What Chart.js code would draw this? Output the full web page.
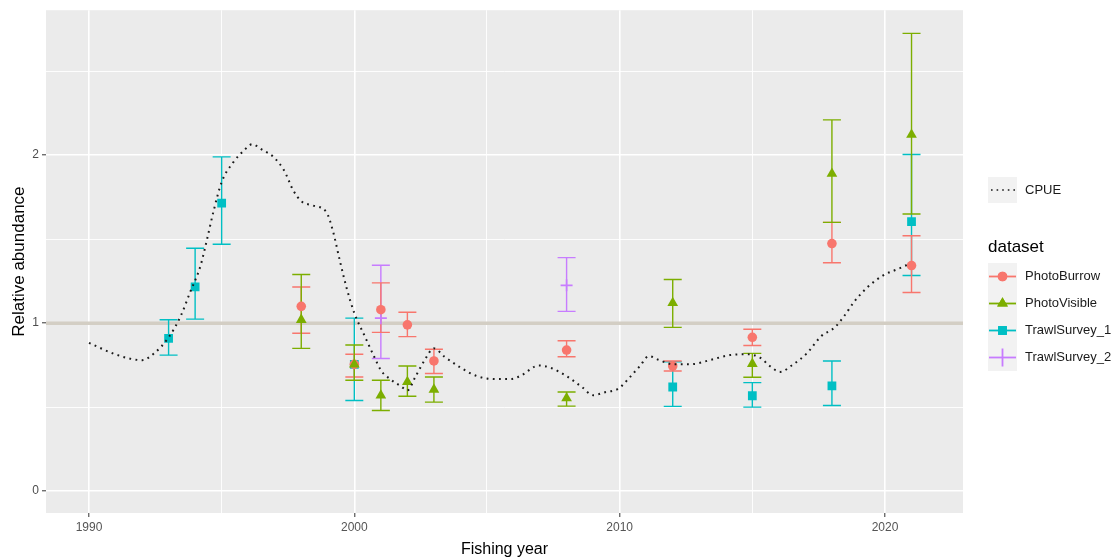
<!DOCTYPE html>
<html><head><meta charset="utf-8">
<script src="https://cdn.jsdelivr.net/npm/chart.js@4.4.1/dist/chart.umd.min.js"></script>
<style>html,body{margin:0;padding:0;background:#fff}#wrap{position:relative;width:1120px;height:559px}</style>
</head><body><div id="wrap"><canvas id="c" width="1120" height="559"></canvas></div>
<script>
// ---------- data ----------
const xTicks = [1990, 1995, 2000, 2005, 2010, 2015, 2020];
const yTicks = [0, 0.5, 1, 1.5, 2, 2.5];
const refLevel = 1;

const burrowYears  = [1998, 2000, 2001, 2002, 2003, 2008, 2012, 2015, 2018, 2021];
const burrowValues = [1.10, 0.755, 1.08, 0.99, 0.775, 0.84, 0.745, 0.916, 1.474, 1.343];
const burrowLow    = [0.94, 0.68, 0.945, 0.92, 0.70, 0.80, 0.715, 0.867, 1.36, 1.183];
const burrowHigh   = [1.215, 0.815, 1.24, 1.065, 0.845, 0.895, 0.775, 0.964, 1.60, 1.52];

const visibleYears  = [1998, 2000, 2001, 2002, 2003, 2008, 2012, 2015, 2018, 2021];
const visibleValues = [1.02, 0.755, 0.57, 0.65, 0.605, 0.553, 1.12, 0.758, 1.89, 2.122];
const visibleLow    = [0.85, 0.66, 0.48, 0.565, 0.53, 0.506, 0.975, 0.678, 1.60, 1.65];
const visibleHigh   = [1.29, 0.87, 0.66, 0.745, 0.68, 0.59, 1.26, 0.82, 2.21, 2.725];

const trawl1Years  = [1993, 1994, 1995, 2000, 2012, 2015, 2018, 2021];
const trawl1Values = [0.91, 1.216, 1.714, 0.755, 0.62, 0.568, 0.627, 1.604];
const trawl1Low    = [0.81, 1.024, 1.47, 0.54, 0.505, 0.50, 0.51, 1.284];
const trawl1High   = [1.02, 1.446, 1.99, 1.03, 0.77, 0.646, 0.775, 2.004];

const trawl2Years  = [2001, 2008];
const trawl2Values = [1.03, 1.225];
const trawl2Low    = [0.79, 1.07];
const trawl2High   = [1.345, 1.39];

const cpueYears = [1990.0, 1990.9, 1991.6, 1992.0, 1992.45, 1993.0, 1993.45, 1993.8, 1994.2, 1994.45, 1994.7, 1995.0, 1995.45, 1995.85, 1996.15, 1996.55, 1996.95, 1997.35, 1997.7, 1998.0, 1998.45, 1998.95, 1999.2, 1999.45, 1999.7, 2000.0, 2000.4, 2000.75, 2001.0, 2001.35, 2001.75, 2002.0, 2002.3, 2002.65, 2003.0, 2003.4, 2004.0, 2004.6, 2005.35, 2005.9, 2006.3, 2006.95, 2007.4, 2008.0, 2008.6, 2009.0, 2009.45, 2009.95, 2010.45, 2010.77, 2011.1, 2011.5, 2012.0, 2012.7, 2013.4, 2014.15, 2014.8, 2015.3, 2015.65, 2016.05, 2016.5, 2017.05, 2017.6, 2018.1, 2018.45, 2018.85, 2019.35, 2019.95, 2020.45, 2020.95];
const cpueValues = [0.883, 0.82, 0.787, 0.78, 0.82, 0.915, 1.04, 1.18, 1.34, 1.50, 1.67, 1.84, 1.96, 2.03, 2.065, 2.03, 1.99, 1.91, 1.79, 1.726, 1.70, 1.66, 1.545, 1.375, 1.215, 1.06, 0.92, 0.80, 0.72, 0.667, 0.625, 0.60, 0.68, 0.78, 0.85, 0.80, 0.736, 0.686, 0.667, 0.667, 0.69, 0.748, 0.734, 0.685, 0.617, 0.571, 0.589, 0.61, 0.69, 0.746, 0.804, 0.78, 0.756, 0.756, 0.78, 0.81, 0.815, 0.794, 0.746, 0.71, 0.75, 0.82, 0.923, 0.974, 1.04, 1.13, 1.215, 1.286, 1.32, 1.355];

const seriesNames = ['PhotoBurrow', 'PhotoVisible', 'TrawlSurvey_1', 'TrawlSurvey_2'];
const seriesColors = ['#F8766D', '#7CAE00', '#00BFC4', '#C77CFF'];

// ---------- build ----------
const series = [
  {years: burrowYears, values: burrowValues, low: burrowLow, high: burrowHigh, style: 'circle', r: 4.8},
  {years: visibleYears, values: visibleValues, low: visibleLow, high: visibleHigh, style: 'triangle', r: 6.2},
  {years: trawl1Years, values: trawl1Values, low: trawl1Low, high: trawl1High, style: 'rect', r: 6.2},
  {years: trawl2Years, values: trawl2Values, low: trawl2Low, high: trawl2High, style: 'cross', r: 6}
];
series.forEach((s, i) => { s.name = seriesNames[i]; s.color = seriesColors[i]; });

const FONT = '"Liberation Sans", Arial, sans-serif';

const datasets = series.map((s, i) => ({
  label: s.name,
  data: s.years.map((yr, j) => ({x: yr, y: s.values[j]})),
  pointStyle: s.style,
  pointRadius: s.r,
  backgroundColor: s.color,
  borderColor: s.color,
  pointBorderWidth: s.style === 'cross' ? 1.6 : 0,
  showLine: false,
  order: [1, 0, 2, 3][i]
}));
datasets.push({
  label: 'CPUE',
  data: cpueYears.map((yr, j) => ({x: yr, y: cpueValues[j]})),
  showLine: true,
  pointRadius: 0,
  borderColor: '#1a1a1a',
  borderWidth: 2,
  borderDash: [1.8, 4.4],
  cubicInterpolationMode: 'monotone',
  order: -1
});

const panelPlugin = {
  id: 'panel',
  beforeDraw(chart) {
    const {ctx, chartArea: a} = chart;
    ctx.save();
    ctx.fillStyle = '#EBEBEB';
    ctx.fillRect(a.left, a.top, a.right - a.left, a.bottom - a.top);
    ctx.restore();
  },
  beforeDatasetsDraw(chart) {
    const {ctx, chartArea: a, scales: {x, y}} = chart;
    ctx.save();
    const yr = y.getPixelForValue(refLevel);
    ctx.strokeStyle = '#D3CEC4';
    ctx.lineWidth = 3.5;
    ctx.beginPath(); ctx.moveTo(a.left, yr); ctx.lineTo(a.right, yr); ctx.stroke();
    ctx.lineWidth = 1.4;
    const order = [2, 3, 0, 1];
    order.forEach(k => {
      const s = series[k];
      ctx.strokeStyle = s.color;
      s.years.forEach((yr2, j) => {
        const px = x.getPixelForValue(yr2);
        const lo = y.getPixelForValue(s.low[j]);
        const hi = y.getPixelForValue(s.high[j]);
        ctx.beginPath();
        ctx.moveTo(px, lo); ctx.lineTo(px, hi);
        ctx.moveTo(px - 9, lo); ctx.lineTo(px + 9, lo);
        ctx.moveTo(px - 9, hi); ctx.lineTo(px + 9, hi);
        ctx.stroke();
      });
    });
    ctx.restore();
  },
  afterDraw(chart) {
    const ctx = chart.ctx;
    ctx.save();
    // CPUE key
    ctx.fillStyle = '#F2F2F2';
    ctx.fillRect(988, 177, 29, 26);
    ctx.strokeStyle = '#1a1a1a';
    ctx.lineWidth = 1.6;
    ctx.setLineDash([1.6, 4]);
    ctx.beginPath(); ctx.moveTo(991, 190); ctx.lineTo(1015, 190); ctx.stroke();
    ctx.setLineDash([]);
    ctx.fillStyle = '#1a1a1a';
    ctx.font = '13px ' + FONT;
    ctx.textBaseline = 'middle';
    ctx.textAlign = 'left';
    ctx.fillText('CPUE', 1025, 190);
    // dataset legend
    ctx.font = '17px ' + FONT;
    ctx.fillStyle = '#000';
    ctx.fillText('dataset', 988, 247);
    ctx.fillStyle = '#F2F2F2';
    ctx.fillRect(988, 263, 29, 108);
    series.forEach((s, i) => {
      const cy = 276.5 + 27 * i, cx = 1002.5;
      ctx.strokeStyle = s.color;
      ctx.fillStyle = s.color;
      ctx.lineWidth = 1.8;
      ctx.beginPath(); ctx.moveTo(989, cy); ctx.lineTo(1016, cy); ctx.stroke();
      if (s.style === 'cross') {
        ctx.beginPath(); ctx.moveTo(cx, cy - 9); ctx.lineTo(cx, cy + 9); ctx.stroke();
      } else {
        Chart.helpers.drawPoint(ctx, {pointStyle: s.style, radius: s.r, rotation: 0, borderWidth: 0}, cx, cy);
        ctx.fill();
      }
      ctx.fillStyle = '#1a1a1a';
      ctx.font = '13px ' + FONT;
      ctx.fillText(s.name, 1025, cy);
    });
    ctx.restore();
  }
};

new Chart(document.getElementById('c'), {
  type: 'scatter',
  data: {datasets},
  options: {
    responsive: false,
    devicePixelRatio: 1,
    animation: false,
    events: [],
    layout: {padding: {top: 10, right: 157, left: 0, bottom: 0}},
    plugins: {legend: {display: false}, tooltip: {enabled: false}},
    scales: {
      x: {
        type: 'linear', min: 1988.38, max: 2022.94,
        afterBuildTicks: s => { s.ticks = xTicks.map(v => ({value: v})); },
        afterFit: s => { s.height = 46; },
        ticks: {callback: v => (v % 10 === 0 ? String(v) : ''), color: '#555555', font: {family: FONT, size: 12}, padding: 3, maxRotation: 0, autoSkip: false},
        grid: {color: '#FFFFFF', lineWidth: c => (c.tick && c.tick.value % 10 === 0 ? 1.6 : 0.9),
               tickColor: c => (c.tick && c.tick.value % 10 === 0 ? '#333333' : 'rgba(0,0,0,0)'), tickLength: 4, tickWidth: 1},
        border: {display: false},
        title: {display: true, text: 'Fishing year', color: '#000', font: {family: FONT, size: 16}, padding: {top: 0, bottom: 0}}
      },
      y: {
        type: 'linear', min: -0.13, max: 2.863,
        afterBuildTicks: s => { s.ticks = yTicks.map(v => ({value: v})); },
        afterFit: s => { s.width = 46; },
        ticks: {callback: v => (Number.isInteger(v) ? String(v) : ''), color: '#4D4D4D', font: {family: FONT, size: 12}, padding: 3},
        grid: {color: '#FFFFFF', lineWidth: c => (c.tick && Number.isInteger(c.tick.value) ? 1.6 : 0.9),
               tickColor: c => (c.tick && Number.isInteger(c.tick.value) ? '#333333' : 'rgba(0,0,0,0)'), tickLength: 4, tickWidth: 1},
        border: {display: false},
        title: {display: true, text: 'Relative abundance', color: '#000', font: {family: FONT, size: 17}, padding: {top: 9, bottom: 0}}
      }
    }
  },
  plugins: [panelPlugin]
});
</script>
</body></html>
